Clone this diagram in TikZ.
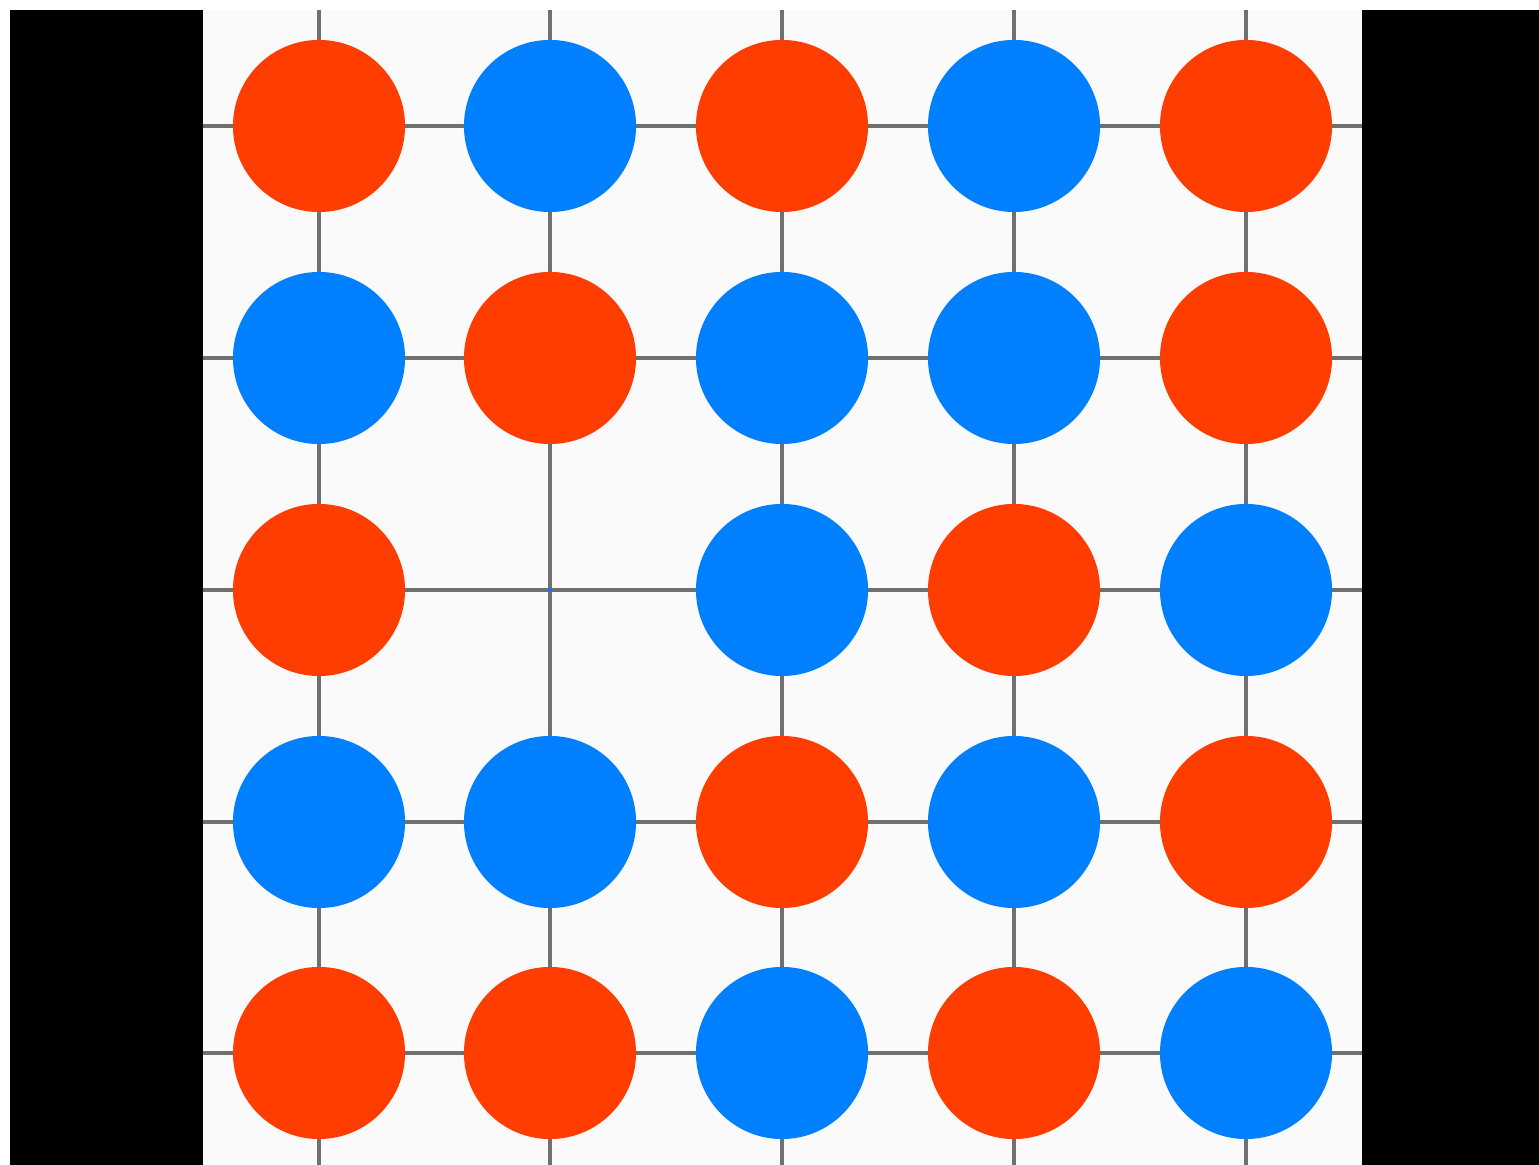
\documentclass[tikz,border=0pt]{standalone}
\usetikzlibrary{positioning}
\definecolor{stonered}{HTML}{FF3D00}
\definecolor{stoneblue}{HTML}{007FFF}
\definecolor{board}{HTML}{FAFAFA}
\definecolor{wire}{HTML}{707070}
\def\nonestr{none}
\tikzset{
  stone/.style={circle, fill=stone#1, draw=none, minimum size=1.72cm, inner sep=0pt},
  dot/.style={circle, fill=stoneblue, draw=none, minimum size=0.04cm, inner sep=0pt},
  wireline/.style={draw=wire, line width=0.9pt},
}

\begin{document}
\begin{tikzpicture}[x=0.01cm, y=-0.01cm]
\useasboundingbox (0,0) rectangle (1539,1165);
% frame
\fill[white] (0,0) rectangle (1539,1165);
\fill[black] (10,10) rectangle (1539,1165);
\fill[board] (203,10) rectangle (1362,1165);

% grid points
\foreach \c/\x in {1/319,2/550,3/782,4/1014,5/1246}
  \foreach \r/\y in {1/126,2/358,3/590,4/822,5/1053}
    \coordinate (p\r\c) at (\x,\y);

% lines
\foreach \c/\x in {1/319,2/550,3/782,4/1014,5/1246}
  \draw[wireline] (\x,10) -- (\x,1165);
\foreach \r/\y in {1/126,2/358,3/590,4/822,5/1053}
  \draw[wireline] (203,\y) -- (1362,\y);

% stones
\foreach \r/\row in {1/{red,blue,red,blue,red},
                     2/{blue,red,blue,blue,red},
                     3/{red,none,blue,red,blue},
                     4/{blue,blue,red,blue,red},
                     5/{red,red,blue,red,blue}}
  \foreach \col [count=\c] in \row {
    \ifx\col\nonestr\else
      \node[stone=\col] (s\r\c) at (p\r\c) {};
    \fi
  };
\node[dot] (empty) at (p32) {};
\end{tikzpicture}
\end{document}
